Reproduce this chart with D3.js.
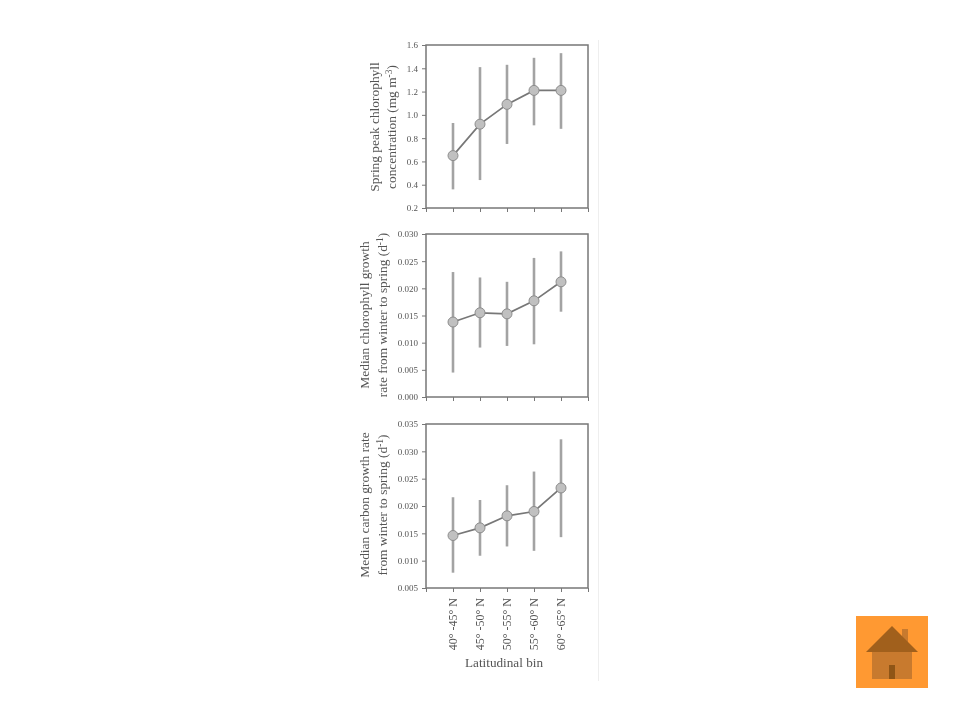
<!DOCTYPE html>
<html><head><meta charset="utf-8">
<script src="https://cdn.jsdelivr.net/npm/d3@7/dist/d3.min.js"></script>
<style>
html,body{margin:0;padding:0;background:#fff}
svg{display:block}
text{font-family:"Liberation Serif",serif;fill:#555}
</style></head><body>
<svg id="c" width="960" height="720"></svg>
<script>
const bins = ["40°-45° N","45°-50° N","50°-55° N","55°-60° N","60°-65° N"];
const chlPeak = [0.65,0.92,1.09,1.21,1.21];
const chlPeakLo = [0.36,0.44,0.75,0.91,0.88];
const chlPeakHi = [0.93,1.41,1.43,1.49,1.53];
const chlRate = [0.0138,0.0155,0.0153,0.0177,0.0212];
const chlRateLo = [0.0045,0.0091,0.0094,0.0097,0.0157];
const chlRateHi = [0.0230,0.0220,0.0212,0.0256,0.0268];
const carbRate = [0.0146,0.0160,0.0182,0.0190,0.0233];
const carbRateLo = [0.0078,0.0109,0.0126,0.0118,0.0143];
const carbRateHi = [0.0216,0.0211,0.0238,0.0263,0.0322];
const panels = [
 {top:45,bottom:208,dom:[0.2,1.6],step:0.2,fmt:"0.1f",v:chlPeak,lo:chlPeakLo,hi:chlPeakHi,
  title:[[["Spring peak chlorophyll"]],[["concentration (mg m"],["-3","sup"],[")"]]],tx:[379,396],tc:127},
 {top:234,bottom:397,dom:[0,0.03],step:0.005,fmt:"0.3f",v:chlRate,lo:chlRateLo,hi:chlRateHi,
  title:[[["Median chlorophyll growth"]],[["rate from winter to spring (d"],["-1","sup"],[")"]]],tx:[369,387],tc:315},
 {top:424,bottom:588,dom:[0.005,0.035],step:0.005,fmt:"0.3f",v:carbRate,lo:carbRateLo,hi:carbRateHi,
  title:[[["Median carbon growth rate"]],[["from winter to spring (d"],["-1","sup"],[")"]]],tx:[369,387],tc:505}
];
const ink="#777", bar="#a3a3a3", dot="#c0c0c0";
const svg=d3.select("#c");
const defs=svg.append("defs");
defs.append("filter").attr("id","soft").attr("x","-5%").attr("y","-5%").attr("width","110%").attr("height","110%")
  .append("feGaussianBlur").attr("stdDeviation",0.55);
const root=svg.append("g").attr("filter","url(#soft)");
root.append("line").attr("x1",598.5).attr("x2",598.5).attr("y1",40).attr("y2",681).attr("stroke","#eee");
const x=d3.scaleLinear().domain([0,bins.length+1]).range([426,588]);
const xTicks=d3.range(0,bins.length+2);
panels.forEach((p,pi)=>{
  const y=d3.scaleLinear().domain(p.dom).range([p.bottom,p.top]);
  const yTicks=d3.range(0,Math.round((p.dom[1]-p.dom[0])/p.step)+1).map(i=>p.dom[0]+i*p.step);
  const g=root.append("g");
  g.append("rect").attr("x",426).attr("y",p.top).attr("width",162).attr("height",p.bottom-p.top)
    .attr("fill","none").attr("stroke",ink).attr("stroke-width",1.5);
  const ax=g.append("g").attr("transform",`translate(426,0)`)
    .call(d3.axisLeft(y).tickValues(yTicks).tickFormat(d3.format(p.fmt)).tickSize(4).tickPadding(4));
  ax.select(".domain").remove();
  ax.selectAll("line").attr("stroke",ink);
  ax.selectAll("text").attr("font-size",9).style("font-family",'"Liberation Serif",serif').attr("fill","#555");
  const bx=g.append("g").attr("transform",`translate(0,${p.bottom})`)
    .call(d3.axisBottom(x).tickValues(xTicks).tickFormat("").tickSize(4));
  bx.select(".domain").remove();
  bx.selectAll("line").attr("stroke",ink);
  g.selectAll("line.err").data(p.v).enter().append("line").attr("class","err")
    .attr("x1",(d,i)=>x(i+1)).attr("x2",(d,i)=>x(i+1))
    .attr("y1",(d,i)=>y(p.lo[i])).attr("y2",(d,i)=>y(p.hi[i]))
    .attr("stroke",bar).attr("stroke-width",2.6);
  g.append("path").datum(p.v).attr("fill","none").attr("stroke",ink).attr("stroke-width",1.7)
    .attr("d",d3.line().x((d,i)=>x(i+1)).y(d=>y(d)));
  g.selectAll("circle").data(p.v).enter().append("circle")
    .attr("cx",(d,i)=>x(i+1)).attr("cy",d=>y(d)).attr("r",5)
    .attr("fill",dot).attr("stroke","#8c8c8c").attr("stroke-width",1);
  p.title.forEach((line,li)=>{
    const t=g.append("text").attr("text-anchor","middle").attr("font-size",13.4)
      .attr("transform",`translate(${p.tx[li]},${p.tc}) rotate(-90)`);
    line.forEach(seg=>{
      const s=t.append("tspan").text(seg[0]);
      if(seg[1]==="sup") s.attr("dy",-4).attr("font-size",9.5);
      else if(t.selectAll("tspan").size()>1) s.attr("dy",4);
    });
  });
});
const last=panels[2];
root.selectAll("text.bin").data(bins).enter().append("text").attr("class","bin")
  .attr("text-anchor","end").attr("font-size",12)
  .attr("transform",(d,i)=>`translate(${x(i+1)+4},${last.bottom+10}) rotate(-90)`)
  .text(d=>d.replace("-"," -"));
root.append("text").attr("x",504).attr("y",667).attr("text-anchor","middle").attr("font-size",13.2).text("Latitudinal bin");
const h=root.append("g");
h.append("rect").attr("x",856).attr("y",616).attr("width",72).attr("height",72).attr("fill","#ff9933");
h.append("rect").attr("x",872).attr("y",652).attr("width",40).attr("height",27).attr("fill","#c87a2e");
h.append("rect").attr("x",902).attr("y",629).attr("width",6).attr("height",14).attr("fill","#c87a2e");
h.append("path").attr("d","M892,626L918,652L866,652Z").attr("fill","#a1601f");
h.append("rect").attr("x",889).attr("y",665).attr("width",6).attr("height",14).attr("fill","#8f5518");
</script>
</body></html>
